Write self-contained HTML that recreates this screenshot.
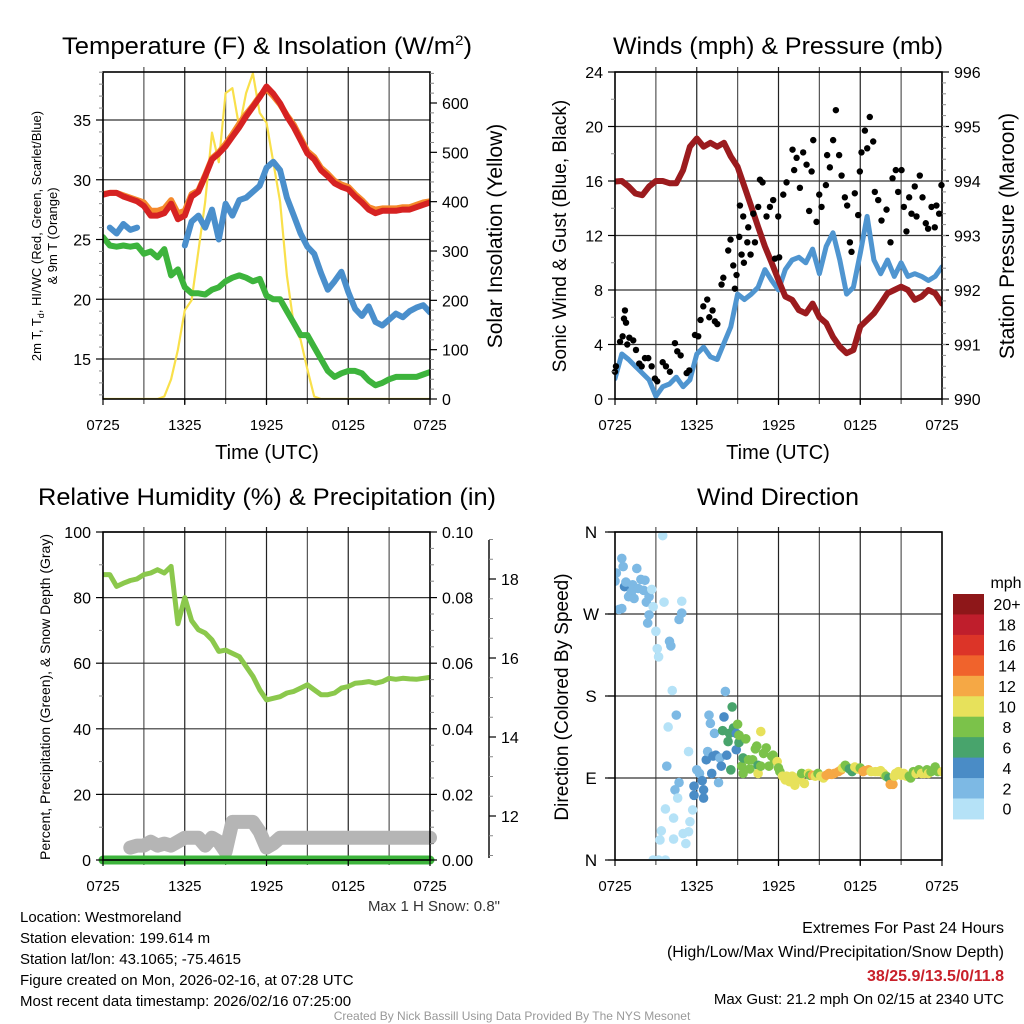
<!DOCTYPE html>
<html><head><meta charset="utf-8">
<style>
html,body{margin:0;padding:0;background:#fff;}
svg{display:block;font-family:"Liberation Sans",sans-serif;}
</style></head>
<body>
<svg id="fig" width="1024" height="1024" viewBox="0 0 1024 1024" xmlns="http://www.w3.org/2000/svg">
<rect width="1024" height="1024" fill="#fff"/>
<g id="layer-grid"></g>
<g id="layer-data"></g>
<g id="layer-frame"></g>
<g id="layer-text">
<text x="267" y="54" font-size="24" text-anchor="middle" textLength="410" lengthAdjust="spacingAndGlyphs">Temperature (F) &amp; Insolation (W/m<tspan font-size="14" dy="-9">2</tspan><tspan dy="9">)</tspan></text>
<text x="778" y="54" font-size="24" text-anchor="middle" textLength="330" lengthAdjust="spacingAndGlyphs">Winds (mph) &amp; Pressure (mb)</text>
<text x="267" y="505" font-size="24" text-anchor="middle" textLength="458" lengthAdjust="spacingAndGlyphs">Relative Humidity (%) &amp; Precipitation (in)</text>
<text x="778" y="505" font-size="24" text-anchor="middle" textLength="162" lengthAdjust="spacingAndGlyphs">Wind Direction</text>

<text x="267" y="459" font-size="20" text-anchor="middle">Time (UTC)</text>
<text x="778" y="459" font-size="20" text-anchor="middle">Time (UTC)</text>

<text transform="translate(41,236) rotate(-90)" font-size="13" text-anchor="middle">2m T, T<tspan font-size="9" dy="3">d</tspan><tspan dy="-3">, HI/WC (Red, Green, Scarlet/Blue)</tspan></text>
<text transform="translate(57,236) rotate(-90)" font-size="13" text-anchor="middle">&amp; 9m T (Orange)</text>
<text transform="translate(502,236) rotate(-90)" font-size="21" text-anchor="middle">Solar Insolation (Yellow)</text>
<text transform="translate(566,236) rotate(-90)" font-size="19" text-anchor="middle">Sonic Wind &amp; Gust (Blue, Black)</text>
<text transform="translate(1014,236) rotate(-90)" font-size="21" text-anchor="middle">Station Pressure (Maroon)</text>
<text transform="translate(50,697) rotate(-90)" font-size="14" text-anchor="middle">Percent, Precipitation (Green), &amp; Snow Depth (Gray)</text>
<text transform="translate(568,697) rotate(-90)" font-size="19" text-anchor="middle">Direction (Colored By Speed)</text>

<text x="500" y="911" font-size="15" fill="#333" text-anchor="end">Max 1 H Snow: 0.8"</text>
<g font-size="15">
<text x="20" y="922">Location: Westmoreland</text>
<text x="20" y="943">Station elevation: 199.614 m</text>
<text x="20" y="964">Station lat/lon: 43.1065; -75.4615</text>
<text x="20" y="985">Figure created on Mon, 2026-02-16, at 07:28 UTC</text>
<text x="20" y="1006">Most recent data timestamp: 2026/02/16 07:25:00</text>
</g>
<g font-size="16" text-anchor="end">
<text x="1004" y="933">Extremes For Past 24 Hours</text>
<text x="1004" y="957">(High/Low/Max Wind/Precipitation/Snow Depth)</text>
<text x="1004" y="981" fill="#c8202a" font-weight="bold">38/25.9/13.5/0/11.8</text>
<text x="1004" y="1004" font-size="15">Max Gust: 21.2 mph On 02/15 at 2340 UTC</text>
</g>
<text x="512" y="1020" font-size="12" fill="#999" text-anchor="middle">Created By Nick Bassill Using Data Provided By The NYS Mesonet</text>
</g>
</svg>
<script>
// ---------- data ----------
const xTickLabels = ["0725","1325","1925","0125","0725"];
const tempRed = [28.75,28.9,28.9,28.6,28.4,28.2,27.8,27.0,27.0,27.2,28.0,26.7,27.0,28.6,29.0,30.3,31.7,32.2,32.8,33.6,34.4,35.3,36.1,36.9,37.8,37.2,36.4,35.3,34.4,33.3,32.2,31.7,30.8,30.3,29.7,29.4,29.2,28.6,28.1,27.5,27.2,27.4,27.4,27.4,27.5,27.5,27.7,27.9,28.1];
const temp9m = [28.8,28.9,28.9,28.7,28.5,28.3,28.1,27.4,27.4,27.6,28.3,27.2,27.4,28.8,29.1,30.4,31.8,32.3,33.0,33.8,34.7,35.5,36.2,37.0,37.6,37.0,36.3,35.4,34.6,33.5,32.4,31.9,31.0,30.5,29.9,29.6,29.4,28.8,28.3,27.7,27.5,27.6,27.6,27.6,27.7,27.7,27.9,28.1,28.2];
const tempChill = [null,26.0,25.5,26.3,25.8,26.0,null,null,null,null,null,null,24.5,26.5,27.0,26.0,27.5,25.0,28.0,27.0,28.3,28.5,29.0,29.5,31.0,31.5,30.8,28.5,27.0,25.5,24.4,23.8,22.2,20.8,21.5,22.3,20.6,19.2,18.6,19.4,18.1,17.8,18.3,18.8,18.5,19.0,19.3,19.5,18.9];
const dewPoint = [25.2,24.5,24.4,24.5,24.4,24.5,23.8,24.0,23.5,24.2,22.0,22.5,21.0,20.5,20.5,20.4,20.8,21.0,21.5,21.8,22.0,21.8,21.5,21.7,20.3,20.0,20.0,19.0,18.0,17.0,17.0,16.0,15.0,14.0,13.5,13.8,14.0,14.0,13.8,13.2,12.8,13.0,13.3,13.5,13.5,13.5,13.5,13.7,13.9];
const solar = [0,0,0,0,0,0,0,0,0,5,40,100,180,200,300,400,540,480,620,630,550,620,660,580,560,480,400,250,150,120,60,5,0,0,0,0,0,0,0,0,0,0,0,0,0,0,0,0,0];
const windSpeed = [1.5,3.3,2.9,2.4,1.9,1.4,0.2,0.9,1.1,1.6,0.9,1.4,3.3,3.8,3.1,2.9,4.1,5.3,7.7,7.3,7.7,8.2,9.5,8.7,8.0,9.5,10.2,10.4,10.0,11.0,9.2,11.2,12.2,10.2,7.7,8.2,10.7,13.4,10.2,9.2,10.2,9.0,10.0,9.0,9.2,9.0,8.7,9.0,9.7];
const pressure = [993.99,994.0,993.9,993.77,993.74,993.9,994.0,994.0,993.96,993.96,994.2,994.63,994.78,994.63,994.7,994.63,994.7,994.45,994.26,993.9,993.53,993.16,992.8,992.5,992.18,991.88,991.82,991.63,991.57,991.75,991.5,991.39,991.14,990.96,990.84,990.9,991.33,991.45,991.57,991.75,991.94,992.0,992.06,992.0,991.82,991.88,992.0,991.94,991.75];
const gustTime = [0.0,0.07,0.37,0.56,0.66,0.73,0.81,0.9,1.05,1.34,1.54,1.78,1.96,2.2,2.44,2.69,2.93,3.1,3.5,3.74,4.03,4.4,4.57,4.82,5.26,5.45,5.87,6.11,6.28,6.48,6.77,6.92,7.16,7.33,7.51,7.82,7.95,8.31,8.48,8.68,8.8,8.92,9.12,9.29,9.46,9.71,9.95,10.27,12.05,
9.17,9.41,9.78,10.15,10.51,10.64,10.83,11.12,11.37,11.61,11.74,11.98,12.35,12.59,13.03,13.15,13.33,13.57,13.81,14.06,14.25,14.43,14.55,14.79,14.99,15.16,15.48,15.57,15.77,16.01,16.21,16.45,16.63,16.87,17.04,17.24,17.36,17.6,17.85,17.97,18.09,18.34,18.51,18.7,18.95,19.07,19.32,19.56,19.93,20.22,20.37,20.61,20.78,21.03,21.2,21.39,21.59,21.76,22.0,22.13,22.37,22.57,22.81,22.98,23.23,23.47,23.59,23.79,23.96];
const gustSpeed = [2.0,2.4,4.2,4.6,5.9,6.5,5.6,4.0,4.5,4.3,3.6,2.6,2.4,3.0,3.0,2.4,1.5,1.3,2.7,2.4,2.0,4.1,3.5,3.2,1.9,2.1,4.7,4.6,5.8,6.8,7.3,6.0,6.5,5.7,5.5,8.4,8.9,10.9,11.7,9.8,8.1,9.1,11.9,10.6,10.0,11.5,10.6,11.5,10.4,
14.2,13.4,12.6,13.6,14.1,16.1,15.9,13.4,14.1,14.6,10.3,13.4,15.0,15.9,18.3,16.8,17.7,15.5,18.1,17.2,13.8,16.7,19.0,13.0,15.0,14.1,15.7,17.9,17.0,19.0,21.2,17.9,16.4,14.8,14.2,11.5,10.8,15.1,13.5,16.7,18.1,19.7,18.4,20.7,18.9,15.2,14.6,13.1,13.9,11.5,16.2,16.8,15.2,16.8,14.1,12.3,14.8,13.6,15.6,13.4,16.4,14.8,12.9,12.5,14.1,12.6,14.2,13.6,15.7];
const relHum = [87,87,83.4,84.4,85.2,85.7,87,87.5,88.5,87.5,89.5,72,80,73,70.2,69.2,67.1,63.6,64,63,62,59,56,51.9,48.8,49.3,49.8,50.9,51.4,52.4,53.4,51.9,50.4,50.4,50.9,52.4,52.9,53.9,54.1,54.4,53.9,54.4,55.4,55.1,55.4,55.2,55.1,55.4,55.7];
const precip = [0,0,0,0,0,0,0,0,0,0,0,0,0,0,0,0,0,0,0,0,0,0,0,0,0,0,0,0,0,0,0,0,0,0,0,0,0,0,0,0,0,0,0,0,0,0,0,0,0];
const snowDepth = [null,null,null,null,11.2,11.25,11.25,11.35,11.25,11.3,11.25,11.35,11.45,11.45,11.45,11.25,11.45,11.35,11.1,11.85,11.85,11.85,11.85,11.6,11.2,11.3,11.45,11.45,11.45,11.45,11.45,11.45,11.45,11.45,11.45,11.45,11.45,11.45,11.45,11.45,11.45,11.45,11.45,11.45,11.45,11.45,11.45,11.45,11.45];
const dirTime = [0.0,0.1,0.5,0.6,0.7,0.8,1.0,1.1,1.2,1.3,1.4,1.6,1.7,1.9,2.1,2.2,2.3,2.5,2.7,2.8,2.5,2.4,0.3,0.5,3.5,3.6,3.0,3.1,3.2,4.0,4.1,4.7,4.9,4.9,4.2,4.5,3.9,5.4,3.8,4.7,4.4,4.6,3.7,4.3,3.4,3.3,4.3,2.8,3.2,3.7,5.0,5.2,5.5,5.7,5.4,
5.8,5.8,6.0,6.2,6.4,6.5,6.5,6.7,6.8,6.9,7.0,7.1,7.2,7.3,7.4,7.6,7.7,7.8,7.9,8.0,8.1,8.2,8.3,8.4,8.5,8.6,8.7,8.9,8.9,9.0,9.1,9.1,9.3,9.4,9.4,9.6,9.8,9.9,10.1,10.3,10.4,10.5,10.5,10.7,10.7,10.9,11.1,11.3,11.5,11.6,11.7,11.9,12.0,12.1,
12.3,12.5,12.6,12.8,13.0,13.2,13.4,13.6,13.7,13.9,14.2,14.3,14.5,14.7,14.9,15.1,15.3,15.5,15.7,15.9,16.1,16.4,16.6,16.7,16.9,17.0,17.2,17.4,17.6,17.8,18.0,18.2,18.3,18.6,18.8,19.1,19.3,19.5,19.7,19.9,20.1,20.2,20.4,20.5,20.6,20.8,21.0,21.2,21.4,21.6,21.7,21.9,22.1,22.3,22.5,22.7,22.9,23.0,23.2,23.4,23.5,23.7,24.0];
const dirDeg = [306,315,331,322,300,305,289,291,294,302,287,320,298,308,296,307,283,289,297,278,269,260,275,276,356,283,251,232,223,240,235,264,271,284,186,159,146,119,103,85,77,68,56,46,32,22,23,0,0,0,29,18,42,55,31,
81,71,99,95,87,68,77,110,119,159,150,95,114,139,115,85,112,103,142,157,185,115,130,139,99,168,145,139,121,149,129,137,103,95,112,133,110,100,110,122,125,104,95,141,103,117,123,103,114,115,110,108,101,97,
92,88,92,86,92,82,88,92,95,84,95,93,93,92,95,92,90,93,95,94,95,97,99,101,104,102,100,97,102,100,101,97,98,99,97,97,97,98,95,92,90,83,83,92,95,97,93,95,92,92,90,97,95,99,95,95,99,95,97,99,102,97,97];
const dirSpeed = [2.5,2.5,2.5,2.5,4.5,2.5,2.5,2.5,2.5,2.5,2.5,2.5,2.5,2.5,2.5,2.5,2.5,2.5,1.5,0.5,2.5,2.5,2.5,2.5,0.5,0.5,0.5,0.5,0.5,2.5,2.5,2.5,2.5,0.5,0.5,2.5,0.5,0.5,2.5,2.5,2.5,1.5,0.5,0.5,0.5,0.5,0.5,0.5,0.5,0.5,0.5,0.5,0.5,0.5,0.5,
4.5,4.5,2.5,2.5,4.5,4.5,4.5,4.5,2.5,2.5,2.5,4.5,4.5,2.5,4.5,2.5,2.5,4.5,6.5,4.5,2.5,4.5,6.5,6.5,6.5,6.5,6.5,4.5,4.5,8.5,6.5,8.5,8.5,8.5,6.5,8.5,8.5,8.5,8.5,8.5,8.5,6.5,10.5,10.5,8.5,8.5,8.5,8.5,8.5,8.5,8.5,10.5,8.5,8.5,
10.5,10.5,10.5,10.5,10.5,10.5,10.5,10.5,8.5,10.5,10.5,8.5,12.5,10.5,8.5,10.5,10.5,12.5,12.5,12.5,12.5,12.5,12.5,10.5,8.5,8.5,6.5,6.5,10.5,10.5,8.5,12.5,12.5,12.5,10.5,10.5,10.5,10.5,10.5,8.5,6.5,12.5,12.5,10.5,10.5,10.5,10.5,10.5,10.5,8.5,8.5,8.5,10.5,8.5,10.5,10.5,8.5,10.5,8.5,8.5,8.5,8.5,10.5];
const colorbarLabels = ["20+","18","16","14","12","10","8","6","4","2","0"];
const speedColors = ["#b5e2f7","#7db9e4","#4a8cc6","#48a46c","#7bc24a","#e7e15b","#f5a845","#f0632c","#dc3428","#bf1e2c","#8e1719"];

// ---------- helpers ----------
const NS = "http://www.w3.org/2000/svg";
const gGrid = document.getElementById('layer-grid');
const gData = document.getElementById('layer-data');
const gFrame = document.getElementById('layer-frame');
const gText = document.getElementById('layer-text');
function mk(tag, attrs, parent){
  const e = document.createElementNS(NS, tag);
  for (const k in attrs) e.setAttribute(k, attrs[k]);
  parent.appendChild(e);
  return e;
}
function txt(x,y,s,size,anchor,parent){
  const e = mk('text',{x:x,y:y,'font-size':size,'text-anchor':anchor},parent);
  e.textContent = s;
  return e;
}
const STEP = 0.5; // hours between samples
function linScale(d0,d1,r0,r1){ return v => r0 + (v-d0)*(r1-r0)/(d1-d0); }

const panels = {
  p1:{L:103,R:430,T:72,B:399},
  p2:{L:615,R:942,T:72,B:399},
  p3:{L:103,R:430,T:532,B:860},
  p4:{L:615,R:942,T:532,B:860}
};

function drawFrame(p, name, gridYs, leftTicks, leftLabels, rightTicks, rightLabels, leftMinor, rightMinor){
  const xs = linScale(0,24,p.L,p.R);
  for (let h=3; h<24; h+=3){
    const l = mk('line',{x1:xs(h),x2:xs(h),y1:p.T-5,y2:p.B+5,stroke:(h%6===0)?'#222':'#555','stroke-width':1.2},gGrid);
    
    
  }
  gridYs.forEach(y=>{
    const l = mk('line',{x1:p.L,x2:p.R,y1:y,y2:y,stroke:'#333','stroke-width':1.2},gGrid);
    
    
  });
  const r = mk('rect',{x:p.L,y:p.T,width:p.R-p.L,height:p.B-p.T,fill:'none',stroke:'#000','stroke-width':1.6},gFrame);
  
  
  xTickLabels.forEach((s,i)=>{
    const t = txt(xs(i*6), p.B+31, s, 15, 'middle', gText);
    
    
    mk('line',{x1:xs(i*6),x2:xs(i*6),y1:p.B,y2:p.B+6,stroke:'#000','stroke-width':1.2},gFrame);
  });
  leftTicks.forEach((y,i)=>{
    mk('line',{x1:p.L-7,x2:p.L,y1:y,y2:y,stroke:'#000','stroke-width':1.2},gFrame);
    if (leftLabels[i]!==''){
      const t = txt(p.L-12, y+6, leftLabels[i], 16, 'end', gText);
      
      
    }
  });
  (leftMinor||[]).forEach(y=>mk('line',{x1:p.L-4,x2:p.L,y1:y,y2:y,stroke:'#888','stroke-width':1},gFrame));
  rightTicks.forEach((y,i)=>{
    mk('line',{x1:p.R,x2:p.R+7,y1:y,y2:y,stroke:'#000','stroke-width':1.2},gFrame);
    const t = txt(p.R+12, y+6, rightLabels[i], 16, 'start', gText);
    
    
  });
  (rightMinor||[]).forEach(y=>mk('line',{x1:p.R,x2:p.R+4,y1:y,y2:y,stroke:'#888','stroke-width':1},gFrame));
}

function linePath(values, xs, ys){
  let d = ''; let pen = false;
  values.forEach((v,i)=>{
    if (v===null){ pen=false; return; }
    const x = xs(i*STEP), y = ys(v);
    d += (pen?'L':'M') + x.toFixed(1)+','+y.toFixed(1)+' ';
    pen = true;
  });
  return d;
}
function drawLine(values, xs, ys, color, w, name, clipId){
  const p = mk('path',{d:linePath(values,xs,ys),fill:'none',stroke:color,'stroke-width':w,'stroke-linejoin':'round','stroke-linecap':'round'},gData);
  if (clipId) p.setAttribute('clip-path','url(#'+clipId+')');
  
  
  return p;
}
const defs = mk('defs',{},document.getElementById('fig'));
['p1','p2','p3','p4'].forEach(k=>{
  const p = panels[k];
  const c = mk('clipPath',{id:'clip-'+k},defs);
  mk('rect',{x:p.L,y:p.T,width:p.R-p.L,height:p.B-p.T},c);
});

// ---------- panel 1 ----------
(function(){
  const p = panels.p1;
  const xs = linScale(0,24,p.L,p.R);
  const yT = linScale(15,35,359,120);
  const yS = linScale(0,600,399,103);
  const lt = [15,20,25,30,35];
  const minorL = []; for (let v=12; v<=39; v++) if (v%5) minorL.push(yT(v));
  const rt = [0,100,200,300,400,500,600];
  const minorR = []; for (let v=20; v<=660; v+=20) if (v%100) minorR.push(yS(v));
  drawFrame(p,'p1',lt.map(yT),lt.map(yT),lt.map(String),rt.map(yS),rt.map(String),minorL,minorR);
  drawLine(solar,xs,yS,'#f9e04b',2.2,'solar-insolation-line','clip-p1');
  drawLine(dewPoint,xs,yT,'#3db43c',6,'dewpoint-line','clip-p1');
  drawLine(tempChill,xs,yT,'#4a8fcc',6,'wind-chill-line','clip-p1');
  drawLine(temp9m,xs,yT,'#f58a2c',6,'temp-9m-line','clip-p1');
  drawLine(tempRed,xs,yT,'#d62222',6,'temp-2m-line','clip-p1');
})();

// ---------- panel 2 ----------
(function(){
  const p = panels.p2;
  const xs = linScale(0,24,p.L,p.R);
  const yW = linScale(0,24,399,72);
  const yP = linScale(990,996,399,72);
  const lt = [0,4,8,12,16,20,24];
  const minorL = []; for (let v=2; v<24; v+=4) minorL.push(yW(v));
  const rt = [990,991,992,993,994,995,996];
  const minorR = []; for (let v=990.2; v<996; v+=0.2) minorR.push(yP(v));
  drawFrame(p,'p2',lt.map(yW),lt.map(yW),lt.map(String),rt.map(yP),rt.map(String),minorL,minorR);
  drawLine(windSpeed,xs,yW,'#4f95d0',5,'sonic-wind-line','clip-p2');
  drawLine(pressure,xs,yP,'#9b1b1e',6,'station-pressure-line','clip-p2');
  gustTime.forEach((t,i)=>{
    const c = mk('circle',{cx:xs(t),cy:yW(gustSpeed[i]),r:3.2,fill:'#000'},gData);
    
    
  });
})();

// ---------- panel 3 ----------
(function(){
  const p = panels.p3;
  const xs = linScale(0,24,p.L,p.R);
  const yR = linScale(0,100,860,532);
  const ySn = linScale(12,18,816,579);
  const lt = [0,20,40,60,80,100];
  const minorL = []; for (let v=10; v<100; v+=20) minorL.push(yR(v));
  const rLab = ["0.00","0.02","0.04","0.06","0.08","0.10"];
  const minorR = []; for (let v=5; v<100; v+=5) if (v%20) minorR.push(yR(v));
  drawFrame(p,'p3',lt.map(yR),lt.map(yR),lt.map(String),lt.map(yR),rLab,minorL,minorR);
  const ax = mk('line',{x1:489,x2:489,y1:540,y2:858,stroke:'#000','stroke-width':1.4},gFrame);
  
  
  [12,14,16,18].forEach(v=>{
    mk('line',{x1:489,x2:496,y1:ySn(v),y2:ySn(v),stroke:'#000','stroke-width':1.2},gFrame);
    const t = txt(501, ySn(v)+6, String(v), 16, 'start', gText);
    
    
  });
  for (let v=11; v<=19; v+=0.5){ if (v%2) mk('line',{x1:489,x2:493,y1:ySn(v),y2:ySn(v),stroke:'#888','stroke-width':1},gFrame); }
  drawLine(relHum,xs,yR,'#8bc84c',5,'relative-humidity-line','clip-p3');
  drawLine(snowDepth,xs,ySn,'#b5b5b5',14,'snow-depth-line',null);
  drawLine(precip,xs,yR,'#3db43c',9,'precipitation-line',null);
})();

// ---------- panel 4 ----------
(function(){
  const p = panels.p4;
  const xs = linScale(0,24,p.L,p.R);
  const yD = linScale(0,360,860,532);
  const lt = [0,90,180,270,360];
  const lab = ["N","E","S","W","N"];
  drawFrame(p,'p4',lt.map(yD),lt.map(yD),['','','','',''],[],[]);
  lt.forEach((v,i)=>{
    mk('line',{x1:p.L-10,x2:p.L,y1:yD(v),y2:yD(v),stroke:'#000','stroke-width':1.2},gFrame);
    const t = txt(p.L-24, yD(v)+6, lab[i], 17, 'middle', gText);
    
    
  });
  dirTime.forEach((t,i)=>{
    const bin = Math.min(10, Math.floor(dirSpeed[i]/2));
    const c = mk('circle',{cx:xs(t),cy:yD(dirDeg[i]),r:4.8,fill:speedColors[bin]},gData);
    c.setAttribute('clip-path','url(#clip-p4)');
    
    
  });
  const cbTop = 594, cbH = 20.45;
  const mph = txt(1006, 588, 'mph', 16, 'middle', gText);
  
  
  colorbarLabels.forEach((s,i)=>{
    const r = mk('rect',{x:953,y:cbTop+i*cbH,width:31,height:cbH+0.5,fill:speedColors[10-i]},gData);
    
    
    const t = txt(1007, cbTop+i*cbH+cbH/2+6, s, 16, 'middle', gText);
    
    
  });
})();
</script>
</body></html>
